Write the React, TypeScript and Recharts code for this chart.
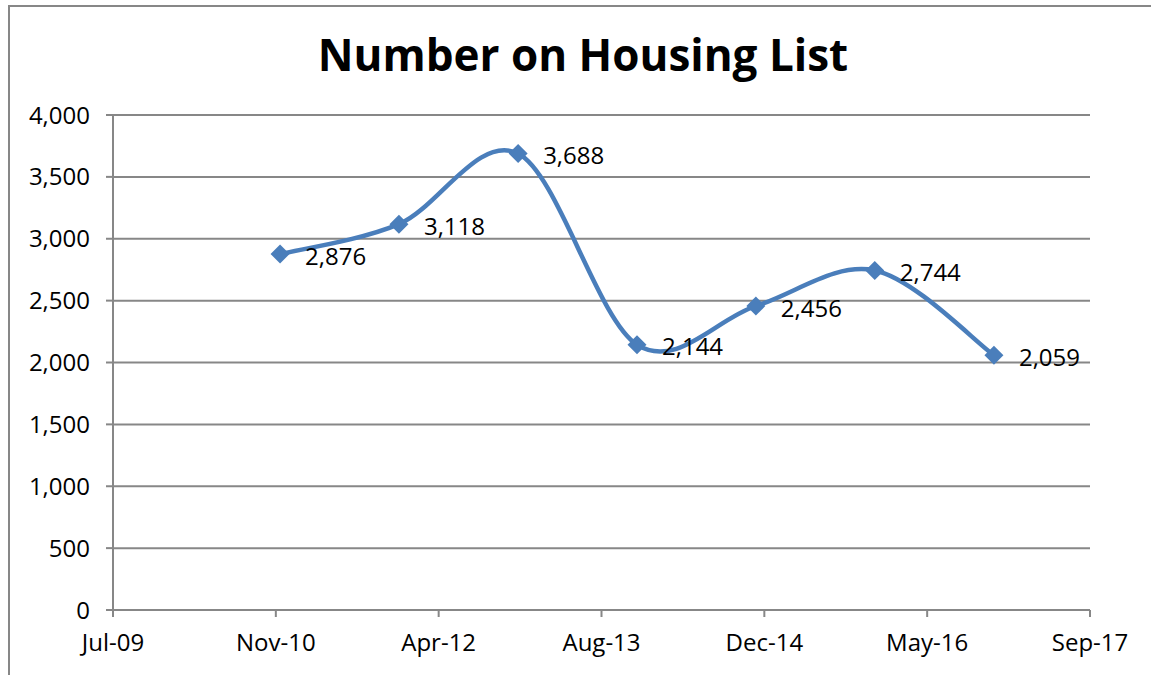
import { LineChart, Line, XAxis, YAxis, CartesianGrid } from 'recharts';

// survey dates (month of each count) and the counts on the housing list
const surveyDates = ['2010-12-01', '2011-12-01', '2012-12-01', '2013-12-01', '2014-12-01', '2015-12-01', '2016-12-01'];
const housingList = [2876, 3118, 3688, 2144, 2456, 2744, 2059];

// Excel-style date axis: serial day numbers, major unit 500 days
const xTicks = [40000, 40500, 41000, 41500, 42000, 42500, 43000];
const yTicks = [0, 500, 1000, 1500, 2000, 2500, 3000, 3500, 4000];

const MONTHS = ['Jan', 'Feb', 'Mar', 'Apr', 'May', 'Jun', 'Jul', 'Aug', 'Sep', 'Oct', 'Nov', 'Dec'];

const toSerial = (iso: string) => {
  const [y, m, d] = iso.split('-').map(Number);
  return Date.UTC(y, m - 1, d) / 86400000 + 25569;
};

const fmtDate = (serial: number) => {
  const dt = new Date((serial - 25569) * 86400000);
  return `${MONTHS[dt.getUTCMonth()]}-${String(dt.getUTCFullYear()).slice(2)}`;
};

const data = surveyDates.map((d, i) => ({ date: toSerial(d), count: housingList[i] }));

// Excel "smoothed line": Catmull-Rom with 1/6 control points
const excelSmooth = (context: any) => {
  let pts: number[][] = [];
  return {
    areaStart() {},
    areaEnd() {},
    lineStart() {
      pts = [];
    },
    point(x: number, y: number) {
      pts.push([+x, +y]);
    },
    lineEnd() {
      if (!pts.length) return;
      context.moveTo(pts[0][0], pts[0][1]);
      for (let i = 0; i < pts.length - 1; i++) {
        const p0 = pts[Math.max(i - 1, 0)];
        const p1 = pts[i];
        const p2 = pts[i + 1];
        const p3 = pts[Math.min(i + 2, pts.length - 1)];
        context.bezierCurveTo(
          p1[0] + (p2[0] - p0[0]) / 6,
          p1[1] + (p2[1] - p0[1]) / 6,
          p2[0] - (p3[0] - p1[0]) / 6,
          p2[1] - (p3[1] - p1[1]) / 6,
          p2[0],
          p2[1]
        );
      }
    },
  };
};

const BLUE = '#4A7EBB';
const GRID = '#878787';
const FONT = '"Open Sans", sans-serif';

const Diamond = (props: any) => {
  const { cx, cy, index } = props;
  if (cx == null || cy == null) return null;
  const r = 9.5;
  return (
    <g key={`d-${index}`}>
      <polygon points={`${cx},${cy - r} ${cx + r},${cy} ${cx},${cy + r} ${cx - r},${cy}`} fill={BLUE} />
      <text
        x={cx + 25}
        y={cy + 1}
        dominantBaseline="central"
        fontSize={24}
        fontFamily={FONT}
        fill="#000"
      >
        {housingList[index].toLocaleString('en-US')}
      </text>
    </g>
  );
};

export default function App() {
  return (
    <div style={{ position: 'absolute', left: 0, top: 0, width: 1151, height: 675, background: '#fff' }}>
      <div
        style={{
          position: 'absolute',
          left: 8,
          top: 5,
          right: 0,
          bottom: 0,
          borderLeft: `2px solid ${GRID}`,
          borderTop: `2px solid ${GRID}`,
        }}
      />
      <div
        style={{
          position: 'absolute',
          left: 0,
          top: 28,
          width: 1166,
          textAlign: 'center',
          fontFamily: FONT,
          fontWeight: 700,
          fontSize: 44,
          color: '#000',
          lineHeight: '52px',
        }}
      >
        Number on Housing List
      </div>
      <LineChart
        width={1151}
        height={675}
        data={data}
        margin={{ top: 115, right: 61, bottom: 0, left: 0 }}
        style={{ position: 'absolute', left: 0, top: 0 }}
      >
        <CartesianGrid vertical={false} stroke={GRID} strokeWidth={2} />
        <XAxis
          dataKey="date"
          type="number"
          domain={[40000, 43000]}
          ticks={xTicks}
          tickFormatter={fmtDate}
          height={65}
          stroke={GRID}
          strokeWidth={2}
          tickSize={7}
          tickMargin={17}
          tick={{ fill: '#000', fontSize: 24, fontFamily: FONT }}
          interval={0}
        />
        <YAxis
          type="number"
          domain={[0, 4000]}
          ticks={yTicks}
          tickFormatter={(v: number) => v.toLocaleString('en-US')}
          width={113}
          stroke={GRID}
          strokeWidth={2}
          tickSize={7}
          tickMargin={16}
          tick={{ fill: '#000', fontSize: 24, fontFamily: FONT }}
          interval={0}
        />
        <Line
          dataKey="count"
          type={excelSmooth as any}
          stroke={BLUE}
          strokeWidth={4.5}
          dot={<Diamond />}
          activeDot={false}
          isAnimationActive={false}
        />
      </LineChart>
    </div>
  );
}
